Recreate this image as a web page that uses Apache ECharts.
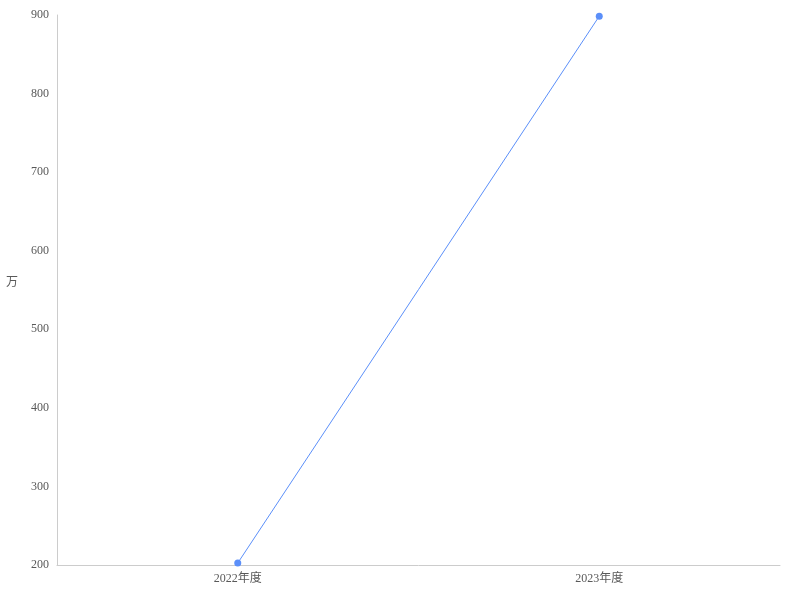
<!DOCTYPE html>
<html>
<head>
<meta charset="utf-8">
<script src="https://cdn.jsdelivr.net/npm/echarts@6/dist/echarts.min.js"></script>
<style>html,body{margin:0;padding:0;background:#fff}#c{width:800px;height:600px}</style>
</head>
<body>
<div id="c"></div>
<script>
const categories = ['2022年度', '2023年度'];
const values = [202.5, 898.5];
const yUnit = '万';

const chart = echarts.init(document.getElementById('c'));
const font = '"Liberation Serif", "Noto Sans CJK SC", serif';
chart.setOption({
  animation: false,
  grid: { left: 57, right: 20, top: 15, bottom: 35, containLabel: false },
  xAxis: {
    type: 'category',
    data: categories,
    boundaryGap: true,
    axisLine: { show: true, lineStyle: { color: '#cccccc' } },
    axisTick: { show: false },
    axisLabel: { color: '#595959', fontSize: 12, fontFamily: font, margin: 8 }
  },
  yAxis: {
    type: 'value',
    min: 200, max: 900, interval: 100,
    name: yUnit,
    nameLocation: 'middle',
    nameRotate: 0,
    nameGap: 39,
    nameTextStyle: { color: '#595959', fontSize: 12, fontFamily: font, verticalAlign: 'bottom', padding: [0,0,1,0] },
    axisLine: { show: true, lineStyle: { color: '#cccccc' } },
    axisTick: { show: false },
    splitLine: { show: false },
    axisLabel: { color: '#595959', fontSize: 12, fontFamily: font, margin: 8 }
  },
  series: [{
    type: 'line',
    data: values,
    symbol: 'circle',
    symbolSize: 7,
    lineStyle: { color: '#5B8FF9', width: 1 },
    itemStyle: { color: '#5B8FF9' }
  }]
});
</script>
</body>
</html>
